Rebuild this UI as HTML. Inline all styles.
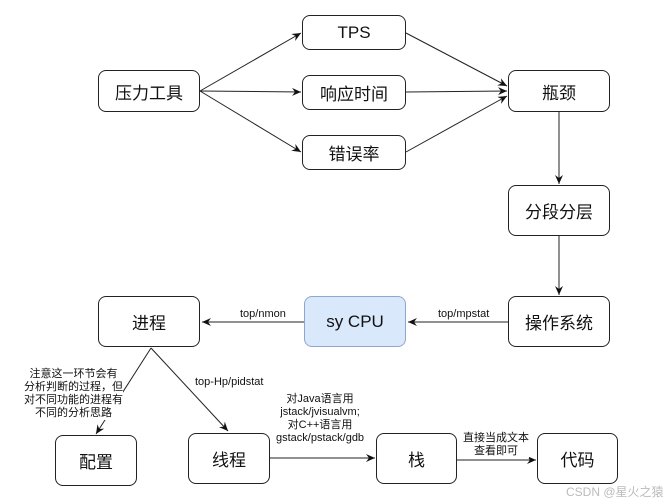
<!DOCTYPE html>
<html><head><meta charset="utf-8"><style>
body{margin:0;background:#fff;width:672px;height:503px;overflow:hidden;position:relative;font-family:"Liberation Sans","Noto Sans CJK SC",sans-serif;}
.b{position:absolute;border:1.3px solid #222;border-radius:8px;background:#fff;display:flex;align-items:center;justify-content:center;font-size:17px;color:#111;box-sizing:border-box;}
.t{position:absolute;font-size:11px;color:#111;text-align:center;line-height:13px;white-space:nowrap;background:#fff;}
svg{position:absolute;left:0;top:0;}
</style></head><body>
<svg width="672" height="503">
<defs><marker id="a" markerWidth="10" markerHeight="8" refX="9" refY="4" orient="auto" markerUnits="userSpaceOnUse"><path d="M0,0 L9,4 L0,8 L3,4z" fill="#111"/></marker></defs>
<g stroke="#222" stroke-width="1" fill="none" marker-end="url(#a)">
<line x1="200" y1="91" x2="301" y2="33"/>
<line x1="200" y1="91" x2="301" y2="92"/>
<line x1="200" y1="91" x2="301" y2="152"/>
<line x1="406" y1="33" x2="507" y2="86"/>
<line x1="406" y1="92" x2="507" y2="91"/>
<line x1="406" y1="152" x2="507" y2="96"/>
<line x1="559" y1="112" x2="559" y2="184"/>
<line x1="559" y1="236" x2="559" y2="295"/>
<line x1="508" y1="322" x2="408" y2="322"/>
<line x1="304" y1="322" x2="202" y2="322"/>
<line x1="151" y1="348" x2="96" y2="434"/>
<line x1="151" y1="348" x2="228" y2="431"/>
<line x1="270" y1="458" x2="375" y2="458"/>
<line x1="457" y1="460" x2="536" y2="460"/>
</g></svg>
<div class="b" style="left:98px;top:70px;width:102px;height:42px">压力工具</div>
<div class="b" style="left:302px;top:15px;width:104px;height:35px">TPS</div>
<div class="b" style="left:302px;top:75px;width:104px;height:35px">响应时间</div>
<div class="b" style="left:302px;top:135px;width:104px;height:35px">错误率</div>
<div class="b" style="left:508px;top:70px;width:102px;height:42px">瓶颈</div>
<div class="b" style="left:508px;top:185px;width:102px;height:51px">分段分层</div>
<div class="b" style="left:508px;top:296px;width:102px;height:51px">操作系统</div>
<div class="b" style="left:304px;top:296px;width:102px;height:51px;background:#dae8fc;border-color:#8fa7cf">sy CPU</div>
<div class="b" style="left:98px;top:296px;width:102px;height:51px">进程</div>
<div class="b" style="left:55px;top:435px;width:82px;height:51px">配置</div>
<div class="b" style="left:188px;top:433px;width:82px;height:51px">线程</div>
<div class="b" style="left:376px;top:433px;width:81px;height:51px">栈</div>
<div class="b" style="left:537px;top:433px;width:81px;height:51px">代码</div>
<div class="t" style="left:240px;top:308px">top/nmon</div>
<div class="t" style="left:438px;top:308px">top/mpstat</div>
<div class="t" style="left:24px;top:368px">注意这一环节会有<br>分析判断的过程，但<br>对不同功能的进程有<br>不同的分析思路</div>
<div class="t" style="left:195px;top:376px">top-Hp/pidstat</div>
<div class="t" style="left:276px;top:393px">对Java语言用<br>jstack/jvisualvm;<br>对C++语言用<br>gstack/pstack/gdb</div>
<div class="t" style="left:463px;top:432px">直接当成文本<br>查看即可</div>
<div class="t" style="left:566px;top:486px;color:#bbb;font-size:12px;background:none">CSDN @星火之猿</div>
</body></html>
